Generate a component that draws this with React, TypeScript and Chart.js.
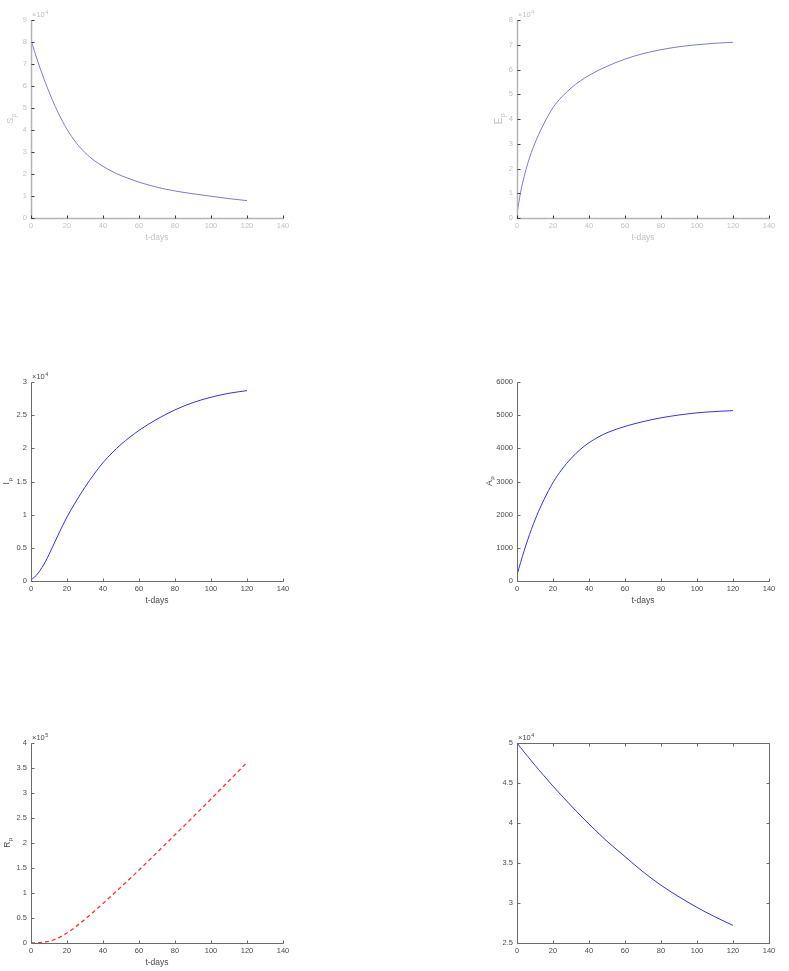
import React, { useEffect, useRef } from 'react';
import { Chart, registerables } from 'chart.js';

Chart.register(...registerables);

// ---- data ----
const DAYS = [0, 2, 4, 6, 8, 10, 12, 15, 20, 25, 30, 35, 40, 45, 50, 60, 70, 80, 90, 100, 110, 120];
const X_TICKS = [0, 20, 40, 60, 80, 100, 120, 140];

const S_P = [80900, 75600, 70600, 65900, 61500, 57300, 53400, 48000, 40300, 34300, 29700, 26200, 23500, 21200, 19300, 16300, 14000, 12300, 11000, 9900, 8800, 7900];
const E_P = [1800, 10400, 16800, 22100, 26500, 30300, 33700, 38200, 44600, 49000, 52500, 55300, 57600, 59600, 61300, 64200, 66400, 68000, 69200, 70000, 70600, 71000];
const I_P = [200, 600, 1200, 2000, 2900, 4000, 5150, 6900, 9650, 12000, 14150, 16100, 17850, 19300, 20600, 22700, 24400, 25800, 26900, 27700, 28300, 28700];
const A_P = [180, 560, 917, 1249, 1557, 1841, 2102, 2454, 2970, 3370, 3695, 3960, 4170, 4335, 4470, 4660, 4805, 4920, 5005, 5070, 5110, 5137];
const R_P = [0, 100, 500, 1200, 2200, 3500, 5500, 10000, 20000, 33000, 47500, 63000, 79000, 95500, 112000, 146000, 181000, 216500, 252000, 288000, 324500, 361000];
const V_P = [50000, 49420, 48860, 48310, 47760, 47220, 46680, 45900, 44600, 43380, 42170, 41000, 39870, 38780, 37720, 35800, 33900, 32220, 30770, 29450, 28270, 27200];

const S_TICKS = [0, 10000, 20000, 30000, 40000, 50000, 60000, 70000, 80000, 90000];
const E_TICKS = [0, 10000, 20000, 30000, 40000, 50000, 60000, 70000, 80000];
const I_TICKS = [0, 5000, 10000, 15000, 20000, 25000, 30000];
const A_TICKS = [0, 1000, 2000, 3000, 4000, 5000, 6000];
const R_TICKS = [0, 50000, 100000, 150000, 200000, 250000, 300000, 350000, 400000];
const V_TICKS = [25000, 30000, 35000, 40000, 45000, 50000];

const X_LABEL = 't-days';
const FONT = "'Liberation Sans', Arial, Helvetica, sans-serif";

type Plot = {
  values: number[];
  yTicks: number[];
  exp: number;
  title: string;
  sub: string;
  color: string;
  lineWidth: number;
  dash: number[];
  faded: boolean;
  box: boolean;
  xLabel: boolean;
  area: [number, number, number, number]; // left, top, right, bottom (page px)
  titleX: number;
  titleSize: number;
};

const PLOTS: Plot[] = [
  { values: S_P, yTicks: S_TICKS, exp: 4, title: 'S', sub: 'p', color: '#7a7ad6', lineWidth: 1, dash: [], faded: true, box: false, xLabel: true, area: [31, 20, 283, 218], titleX: 13, titleSize: 9 },
  { values: E_P, yTicks: E_TICKS, exp: 4, title: 'E', sub: 'p', color: '#7a7ad6', lineWidth: 1, dash: [], faded: true, box: false, xLabel: true, area: [517, 20, 769, 218], titleX: 16, titleSize: 10 },
  { values: I_P, yTicks: I_TICKS, exp: 4, title: 'I', sub: 'p', color: '#3030ff', lineWidth: 1, dash: [], faded: false, box: false, xLabel: true, area: [31, 382, 283, 581], titleX: 9, titleSize: 8.5 },
  { values: A_P, yTicks: A_TICKS, exp: 0, title: 'A', sub: 'p', color: '#3030ff', lineWidth: 1, dash: [], faded: false, box: false, xLabel: true, area: [517, 382, 769, 581], titleX: 5.5, titleSize: 8.5 },
  { values: R_P, yTicks: R_TICKS, exp: 5, title: 'R', sub: 'p', color: '#ff3030', lineWidth: 1.3, dash: [4, 3], faded: false, box: false, xLabel: true, area: [31, 743, 283, 943], titleX: 9.5, titleSize: 8.5 },
  { values: V_P, yTicks: V_TICKS, exp: 4, title: '', sub: '', color: '#3030ff', lineWidth: 1, dash: [], faded: false, box: true, xLabel: false, area: [517, 743, 769, 943], titleX: 9, titleSize: 8.5 },
];

const PAD_TOP = 22;
const PAD_RIGHT = 14;
const Y_W = 31;
const X_H = 30;

const decor = {
  id: 'decor',
  afterDatasetsDraw(chart: any, _args: any, o: any) {
    const { ctx, chartArea: ca } = chart;
    const xs = chart.scales.x;
    const ys = chart.scales.y;
    const l = Math.round(ca.left) + 0.5;
    const r = Math.round(ca.right) + 0.5;
    const t = Math.round(ca.top) + 0.5;
    const b = Math.round(ca.bottom) + 0.5;
    ctx.save();
    // axis lines
    ctx.strokeStyle = o.axisColor;
    ctx.lineWidth = o.axisWidth;
    ctx.beginPath();
    ctx.moveTo(l, t);
    ctx.lineTo(l, b);
    ctx.lineTo(r, b);
    if (o.box) {
      ctx.moveTo(l, t);
      ctx.lineTo(r, t);
      ctx.lineTo(r, b);
    }
    ctx.stroke();
    // inward ticks
    ctx.strokeStyle = o.tickColor;
    ctx.lineWidth = o.tickWidth;
    ctx.beginPath();
    xs.ticks.forEach((tk: any) => {
      const px = Math.round(xs.getPixelForValue(tk.value)) + 0.5;
      ctx.moveTo(px, b);
      ctx.lineTo(px, b - o.tickLen);
      if (o.box) {
        ctx.moveTo(px, t);
        ctx.lineTo(px, t + o.tickLen);
      }
    });
    ys.ticks.forEach((tk: any) => {
      const py = Math.round(ys.getPixelForValue(tk.value)) + 0.5;
      ctx.moveTo(l, py);
      ctx.lineTo(l + o.tickLen, py);
      if (o.box) {
        ctx.moveTo(r, py);
        ctx.lineTo(r - o.tickLen, py);
      }
    });
    ctx.stroke();
    ctx.fillStyle = o.textColor;
    // exponent
    if (o.exp) {
      ctx.textAlign = 'left';
      ctx.textBaseline = 'alphabetic';
      ctx.font = `7.5px ${FONT}`;
      const base = '\u00d710';
      ctx.fillText(base, ca.left + 1, ca.top - 3);
      const w = ctx.measureText(base).width;
      ctx.font = `5.5px ${FONT}`;
      ctx.fillText(String(o.exp), ca.left + 1 + w + 0.5, ca.top - 6);
    }
    // x label
    if (o.xLabel) {
      ctx.font = `8.5px ${FONT}`;
      ctx.textAlign = 'center';
      ctx.textBaseline = 'middle';
      ctx.fillText(X_LABEL, (ca.left + ca.right) / 2, ca.bottom + 20);
    }
    // y title with subscript
    if (o.title) {
      const mid = (ca.top + ca.bottom) / 2;
      ctx.translate(o.titleX, mid);
      ctx.rotate(-Math.PI / 2);
      ctx.textAlign = 'left';
      ctx.textBaseline = 'alphabetic';
      ctx.font = `${o.titleSize}px ${FONT}`;
      const wm = ctx.measureText(o.title).width;
      ctx.font = `${o.titleSize * 0.72}px ${FONT}`;
      const wsub = ctx.measureText(o.sub).width;
      const start = -(wm + wsub) / 2;
      ctx.font = `${o.titleSize}px ${FONT}`;
      ctx.fillText(o.title, start, 0);
      ctx.font = `${o.titleSize * 0.72}px ${FONT}`;
      ctx.fillText(o.sub, start + wm + 0.5, 2.5);
    }
    ctx.restore();
  },
};

function fmt(v: number, exp: number) {
  const s = v / Math.pow(10, exp);
  return String(Number(s.toFixed(3)));
}

function PlotView({ p }: { p: Plot }) {
  const ref = useRef<HTMLCanvasElement>(null);
  const [L, T, R, B] = p.area;
  const w = R - L + Y_W + PAD_RIGHT;
  const h = B - T + PAD_TOP + X_H;
  const left = L - Y_W;
  const top = T - PAD_TOP;

  useEffect(() => {
    const textColor = p.faded ? '#c2c2c2' : '#4a4a4a';
    const tickFont = { family: FONT, size: 7.5 };
    const yMin = p.yTicks[0];
    const yMax = p.yTicks[p.yTicks.length - 1];
    const yStep = p.yTicks[1] - p.yTicks[0];
    const chart = new Chart(ref.current as HTMLCanvasElement, {
      type: 'line',
      data: {
        datasets: [
          {
            data: DAYS.map((d, i) => ({ x: d, y: p.values[i] })),
            borderColor: p.color,
            borderWidth: p.lineWidth,
            borderDash: p.dash,
            pointRadius: 0,
            fill: false,
            cubicInterpolationMode: 'monotone',
          } as any,
        ],
      },
      options: {
        responsive: false,
        animation: false,
        devicePixelRatio: 1,
        layout: { padding: { top: PAD_TOP, right: PAD_RIGHT, left: 0, bottom: 0 } },
        plugins: {
          legend: { display: false },
          tooltip: { enabled: false },
          decor: {
            axisColor: p.faded ? '#b4b4b4' : '#6a6a6a',
            axisWidth: p.faded ? 1.5 : 1,
            tickColor: p.faded ? '#3a3a3a' : '#6a6a6a',
            tickWidth: 1,
            tickLen: 3,
            textColor,
            exp: p.exp,
            xLabel: p.xLabel,
            title: p.title,
            sub: p.sub,
            titleX: p.titleX,
            titleSize: p.titleSize,
            box: p.box,
          },
        } as any,
        scales: {
          x: {
            type: 'linear',
            min: X_TICKS[0],
            max: X_TICKS[X_TICKS.length - 1],
            afterBuildTicks: (s: any) => {
              s.ticks = X_TICKS.map((v) => ({ value: v }));
            },
            ticks: {
              stepSize: 20,
              autoSkip: false,
              maxRotation: 0,
              padding: 3,
              color: textColor,
              font: tickFont,
            },
            grid: { display: false, drawTicks: false },
            border: { display: false },
            afterFit: (s: any) => {
              s.height = X_H;
            },
          },
          y: {
            type: 'linear',
            min: yMin,
            max: yMax,
            afterBuildTicks: (s: any) => {
              s.ticks = p.yTicks.map((v) => ({ value: v }));
            },
            ticks: {
              stepSize: yStep,
              autoSkip: false,
              padding: 4,
              color: textColor,
              font: tickFont,
              callback: (v: any) => fmt(Number(v), p.exp),
            },
            grid: { display: false, drawTicks: false },
            border: { display: false },
            afterFit: (s: any) => {
              s.width = Y_W;
            },
          },
        },
      } as any,
      plugins: [decor],
    });
    return () => chart.destroy();
  }, []);

  return (
    <canvas
      ref={ref}
      width={w}
      height={h}
      style={{ position: 'absolute', left, top, width: w, height: h }}
    />
  );
}

export default function App() {
  return (
    <div style={{ position: 'absolute', left: 0, top: 0, width: 789, height: 971, background: '#fff' }}>
      {PLOTS.map((p, i) => (
        <PlotView key={i} p={p} />
      ))}
    </div>
  );
}
